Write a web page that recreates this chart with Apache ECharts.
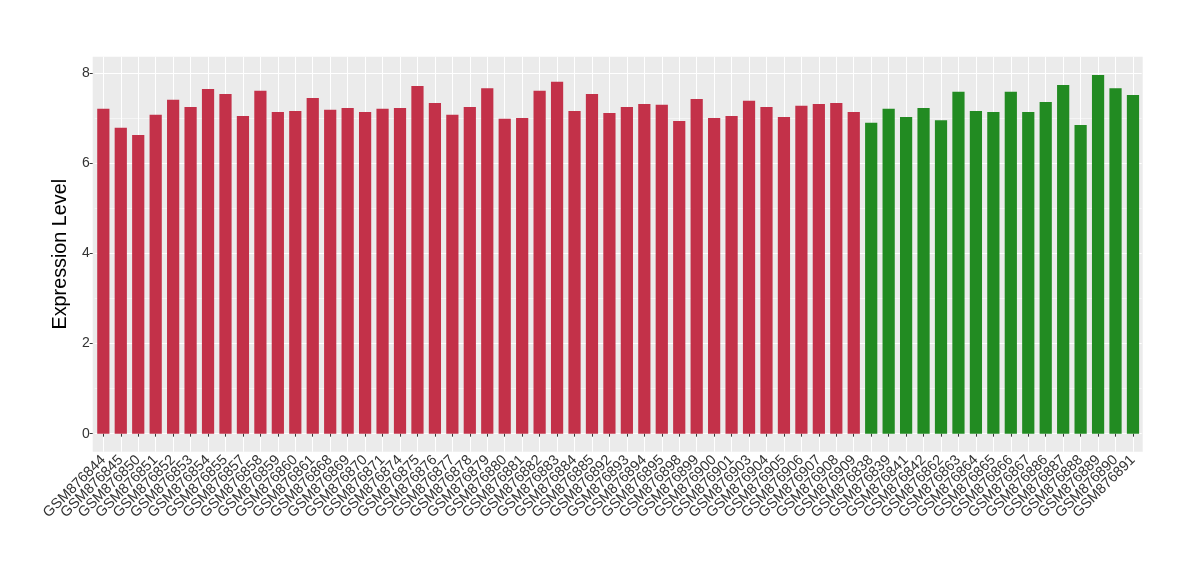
<!DOCTYPE html>
<html>
<head>
<meta charset="utf-8">
<script src="https://cdn.jsdelivr.net/npm/echarts@6/dist/echarts.min.js"></script>
<style>html,body{margin:0;padding:0;background:#fff}#c{width:1200px;height:580px}</style>
</head>
<body>
<div id="c"></div>
<script>
const groupACategories = ["GSM876844","GSM876845","GSM876850","GSM876851","GSM876852","GSM876853","GSM876854","GSM876855","GSM876857","GSM876858","GSM876859","GSM876860","GSM876861","GSM876868","GSM876869","GSM876870","GSM876871","GSM876874","GSM876875","GSM876876","GSM876877","GSM876878","GSM876879","GSM876880","GSM876881","GSM876882","GSM876883","GSM876884","GSM876885","GSM876892","GSM876893","GSM876894","GSM876895","GSM876898","GSM876899","GSM876900","GSM876901","GSM876903","GSM876904","GSM876905","GSM876906","GSM876907","GSM876908","GSM876909"];
const groupAValues = [7.21,6.79,6.63,7.08,7.41,7.25,7.65,7.54,7.05,7.61,7.14,7.16,7.45,7.19,7.23,7.14,7.21,7.23,7.72,7.34,7.08,7.25,7.67,6.99,7.01,7.61,7.81,7.16,7.54,7.12,7.25,7.32,7.30,6.94,7.43,7.01,7.05,7.39,7.25,7.03,7.28,7.32,7.34,7.14];
const groupBCategories = ["GSM876838","GSM876839","GSM876841","GSM876842","GSM876862","GSM876863","GSM876864","GSM876865","GSM876866","GSM876867","GSM876886","GSM876887","GSM876888","GSM876889","GSM876890","GSM876891"];
const groupBValues = [6.90,7.21,7.03,7.23,6.96,7.59,7.16,7.14,7.59,7.14,7.36,7.74,6.85,7.96,7.67,7.52];
const yTicks = [0,2,4,6,8];
const colorA = "#C33149";
const colorB = "#228B22";

const categories = groupACategories.concat(groupBCategories);
const data = groupAValues.map(v => ({value: v, itemStyle: {color: colorA}}))
  .concat(groupBValues.map(v => ({value: v, itemStyle: {color: colorB}})));

const chart = echarts.init(document.getElementById('c'), null, {renderer: 'canvas'});
const FONT = '"Liberation Sans", Arial, sans-serif';
chart.setOption({
  animation: false,
  backgroundColor: '#ffffff',
  textStyle: {fontFamily: FONT},
  grid: {left: 94.6, right: 58.3, top: 56.7, bottom: 128.3, containLabel: false},
  graphic: [{
    type: 'rect', z: -10, silent: true,
    shape: {x: 92.7, y: 56.7, width: 1050, height: 395},
    style: {fill: '#EBEBEB'}
  }],
  xAxis: {
    type: 'category',
    data: categories,
    axisLine: {show: false},
    axisTick: {show: true, alignWithLabel: true, length: 3, lineStyle: {color: '#333333', width: 1}},
    splitLine: {show: true, alignWithLabel: true, lineStyle: {color: '#ffffff', width: 1.07}},
    axisLabel: {rotate: 45, interval: 0, margin: 6, fontSize: 14.5, color: '#333333', fontFamily: FONT}
  },
  yAxis: {
    type: 'value',
    min: -0.4, max: 8.368,
    offset: 1.9,
    name: 'Expression Level',
    nameLocation: 'middle',
    nameGap: 19,
    nameTextStyle: {fontSize: 19.8, color: '#000000', fontFamily: FONT},
    axisLine: {show: false},
    axisTick: {show: true, length: 3, customValues: yTicks, lineStyle: {color: '#333333', width: 1}},
    axisLabel: {margin: 3, fontSize: 14, color: '#333333', fontFamily: FONT, customValues: yTicks},
    splitLine: {show: true, lineStyle: {color: '#ffffff', width: 1.07}},
    minorTick: {show: false, splitNumber: 2},
    minorSplitLine: {show: true, lineStyle: {color: '#ffffff', width: 0.53}}
  },
  series: [{
    type: 'bar',
    data: data,
    barWidth: '70%',
    z: 5
  }]
});
</script>
</body>
</html>
